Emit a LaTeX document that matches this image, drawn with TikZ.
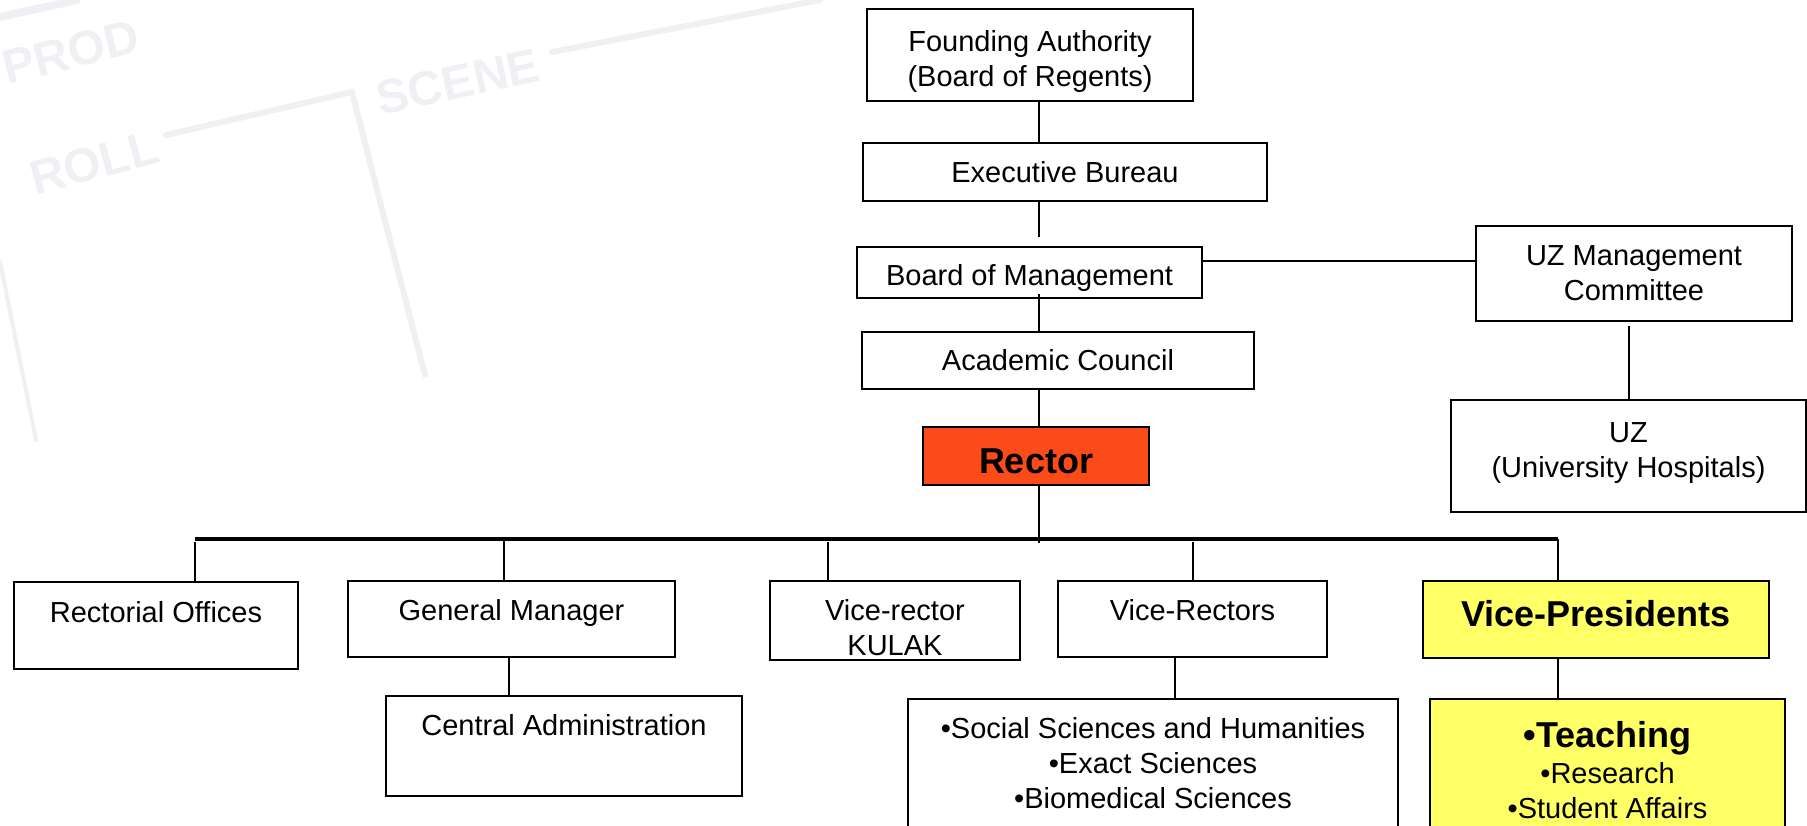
\documentclass[tikz,border=0pt]{standalone}
\usepackage{fontspec}
\setmainfont{Liberation Sans}
\usetikzlibrary{calc}
\definecolor{rectorred}{RGB}{250,75,25}
\definecolor{vpyellow}{RGB}{255,255,102}
\definecolor{wmark}{RGB}{239,240,243}
\newcommand\rfont{\fontsize{14.5}{17.5}\selectfont}
\newcommand\bfont{\fontsize{18}{21}\selectfont\bfseries}
\newcommand\mline[2]{\raisebox{#1}[0pt][0pt]{\begin{tabular}{@{}c@{}}#2\end{tabular}}}
\tikzset{
  box/.style={draw=black, line width=1pt, fill=white, inner sep=0pt, font=\rfont, align=center},
  lift/.style={text height=10.5pt, text depth=#1},
  conn/.style={draw=black, line width=0.9pt},
  busline/.style={draw=black, line width=1.6pt},
  wmtext/.style={text=wmark, font=\fontsize{24}{24}\selectfont\bfseries, inner sep=0pt},
  wmline/.style={draw=wmark, line width=3pt, line cap=round}
}
\begin{document}
\begin{tikzpicture}[x=0.5pt, y=-0.5pt]
\useasboundingbox (0,0) rectangle (1807,825);
% faint background watermark
\node[wmtext, rotate=14] (wmprod) at (71,52) {PROD};
\node[wmtext, rotate=15] (wmroll) at (94,163) {ROLL};
\node[wmtext, rotate=12] (wmscene) at (458,82) {SCENE};
\draw[wmline] (166,135) -- (352,92) -- (383,213) -- (425,375);
\draw[wmline] (552,52) -- (820,0);
\draw[wmline, line width=2pt] (0,262) -- (36,440);
\draw[wmline, line width=4pt] (0,17) -- (77,0);

% top chain
\node[box, minimum width=163pt, minimum height=46pt] (FA) at (1030,55) {\mline{-7.3pt}{Founding Authority\\(Board of Regents)}};
\node[box, minimum width=202pt, minimum height=29pt] (EB) at (1065,172) {Executive Bureau};
\node[box, text height=13pt, text depth=0.1pt, minimum width=172.5pt, minimum height=25.5pt] (BoM) at (1029.5,272.5) {Board of Management};
\node[box, minimum width=196pt, minimum height=28.5pt] (AC) at (1058,360.5) {Academic Council};
\node[box, fill=rectorred, font=\bfont, text height=18pt, text depth=0.1pt, minimum width=113pt, minimum height=29pt] (R) at (1036,456) {Rector};

% UZ side
\node[box, minimum width=158pt, minimum height=47.5pt] (UZM) at (1634,273.5) {UZ Management\\Committee};
\node[box, minimum width=177.5pt, minimum height=56pt] (UZ) at (1628.5,456) {\mline{-2.05pt}{UZ\\(University Hospitals)}};

% second level
\node[box, lift=13.6pt, minimum width=142pt, minimum height=43.5pt] (RO) at (156,625.5) {Rectorial Offices};
\node[box, lift=9.1pt, minimum width=163.5pt, minimum height=38pt] (GM) at (511.5,619) {General Manager};
\node[box, lift=21.1pt, minimum width=178pt, minimum height=50pt] (CA) at (564,746) {Central Administration};
\node[box, minimum width=125pt, minimum height=39.5pt] (VRK) at (895,620.5) {\mline{-8.8pt}{Vice-rector\\KULAK}};
\node[box, lift=9.1pt, minimum width=134.5pt, minimum height=38pt] (VR) at (1192.5,619) {Vice-Rectors};
\node[box, fill=vpyellow, font=\bfont, text height=13pt, text depth=5.6pt, minimum width=173pt, minimum height=38.5pt] (VP) at (1596,619.5) {Vice-Presidents};
\node[box, minimum width=245pt, minimum height=64pt] (FAC) at (1153,763) {•Social Sciences and Humanities\\•Exact Sciences\\•Biomedical Sciences};
\node[box, fill=vpyellow, minimum width=177.5pt, minimum height=71pt] (VPS) at (1607.5,770) {{\bfont •Teaching}\\[0.5pt]•Research\\•Student Affairs};

% connectors
\coordinate (spine) at (1039,0);
\coordinate (hl) at (0,261);
\coordinate (uzx) at (1629,0);
\coordinate (busL) at (195,539);
\coordinate (busR) at (1558,539);
\coordinate (gmx) at (504,0);
\coordinate (vrkx) at (828,0);
\coordinate (vrx) at (1193,0);
\coordinate (cax) at (509,0);
\coordinate (facx) at (1175,0);

\draw[conn] (FA.south -| spine) -- (EB.north -| spine);
\draw[conn] (EB.south -| spine) -- ++(0,35);
\draw[conn] ($(BoM.south -| spine)+(0,-5)$) -- (AC.north -| spine);
\draw[conn] (AC.south -| spine) -- (R.north -| spine);
\draw[conn] (BoM.east |- hl) -- (UZM.west |- hl);
\draw[conn] ($(UZM.south -| uzx)+(0,4)$) -- (UZ.north -| uzx);

\draw[busline] (busL) -- (busR);
\draw[conn] (R.south -| spine) -- ($(spine |- busL)+(0,4)$);
\draw[conn] ($(busL)+(0,3)$) -- (RO.north -| busL);
\draw[conn] (gmx |- busL) -- (GM.north -| gmx);
\draw[conn] ($(vrkx |- busL)+(0,3)$) -- (VRK.north -| vrkx);
\draw[conn] ($(vrx |- busL)+(0,3)$) -- (VR.north -| vrx);
\draw[conn] (busR) -- (VP.north -| busR);
\draw[conn] (GM.south -| cax) -- (CA.north -| cax);
\draw[conn] (VR.south -| facx) -- (FAC.north -| facx);
\draw[conn] (VP.south -| busR) -- (VPS.north -| busR);
\end{tikzpicture}
\end{document}
